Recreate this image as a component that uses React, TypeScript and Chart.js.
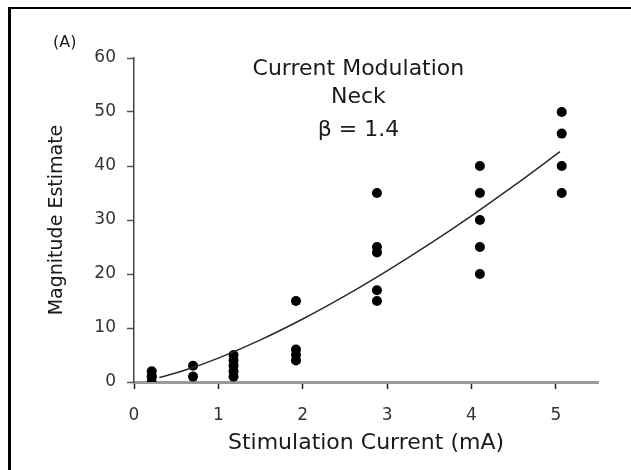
import React, { useEffect, useRef } from "react";
import { Chart, registerables } from "chart.js";

Chart.register(...registerables);

// ---- data ----
const stimulationLevels = [0.21, 0.7, 1.18, 1.92, 2.88, 4.1, 5.07];
const estimatesAtLevel = [
  [0, 1, 1, 2],
  [1, 3],
  [1, 2, 3, 4, 5],
  [4, 5, 6, 15],
  [15, 17, 24, 25, 35],
  [20, 25, 30, 35, 40],
  [35, 40, 46, 50],
];
// power-function fit (beta = 1.4) as traced on the picture
const fitX = [0.3, 0.6, 1.0, 1.5, 2.0, 2.5, 3.0, 3.5, 4.0, 4.5, 5.05];
const fitY = [0.82, 2.16, 4.42, 7.8, 11.66, 15.94, 20.58, 25.53, 30.78, 36.3, 42.65];

const xTickValues = [0, 1, 2, 3, 4, 5];
const yTickValues = [0, 10, 20, 30, 40, 50, 60];

const panelLabel = "(A)";
const titleLines = ["Current Modulation", "Neck", "β = 1.4"];
const xTitle = "Stimulation Current (mA)";
const yTitle = "Magnitude Estimate";

const FONT = "'DejaVu Sans', 'Liberation Sans', sans-serif";

const textPlugin = {
  id: "panelText",
  afterDraw(chart: any) {
    const { ctx, chartArea, scales } = chart;
    ctx.save();
    ctx.fillStyle = "#1a1a1a";
    ctx.textBaseline = "alphabetic";
    ctx.textAlign = "left";
    ctx.font = `16px ${FONT}`;
    ctx.fillText(panelLabel, 53, 47);
    ctx.textAlign = "center";
    ctx.font = `22px ${FONT}`;
    const cx = scales.x.getPixelForValue(2.66);
    const offsets = [17, 45, 78];
    titleLines.forEach((t, i) => {
      ctx.fillText(t, cx, chartArea.top + offsets[i]);
    });
    ctx.restore();
  },
};

export default function App() {
  const canvasRef = useRef<HTMLCanvasElement | null>(null);

  useEffect(() => {
    if (!canvasRef.current) return;
    const points: { x: number; y: number }[] = [];
    stimulationLevels.forEach((x, i) => {
      estimatesAtLevel[i].forEach((y) => points.push({ x, y }));
    });
    const fit = fitX.map((x, i) => ({ x, y: fitY[i] }));

    const chart = new Chart(canvasRef.current, {
      type: "scatter",
      data: {
        datasets: [
          {
            data: fit,
            showLine: true,
            pointRadius: 0,
            borderColor: "#2a2a2a",
            borderWidth: 1.5,
            tension: 0.4,
            fill: false,
          } as any,
          {
            data: points,
            pointRadius: 5,
            pointBackgroundColor: "#000",
            pointBorderWidth: 0,
            backgroundColor: "#000",
            borderColor: "#000",
          },
        ],
      },
      options: {
        animation: false,
        responsive: true,
        maintainAspectRatio: false,
        events: [],
        layout: { padding: { left: 0, right: 33, top: 58, bottom: 0 } },
        plugins: {
          legend: { display: false },
          tooltip: { enabled: false },
        },
        scales: {
          x: {
            type: "linear",
            min: 0,
            max: 5.5,
            afterBuildTicks: (scale: any) => {
              scale.ticks = xTickValues.map((v) => ({ value: v }));
            },
            afterFit: (scale: any) => {
              scale.height = 88;
            },
            ticks: {
              stepSize: 1,
              color: "#333",
              font: { family: FONT, size: 17 },
              padding: 16,
              maxRotation: 0,
            },
            grid: {
              display: true,
              drawOnChartArea: false,
              drawTicks: true,
              tickLength: 7,
              tickColor: "#222",
              tickWidth: 1.5,
            },
            border: { display: true, color: "#9a9a9a", width: 3 },
            title: {
              display: true,
              text: xTitle,
              color: "#1a1a1a",
              font: { family: FONT, size: 22 },
              padding: { top: 0, bottom: 14 },
            },
          },
          y: {
            type: "linear",
            min: 0,
            max: 60,
            afterBuildTicks: (scale: any) => {
              scale.ticks = yTickValues.map((v) => ({ value: v }));
            },
            afterFit: (scale: any) => {
              scale.width = 134;
            },
            ticks: {
              stepSize: 10,
              color: "#333",
              font: { family: FONT, size: 17 },
              padding: 11,
            },
            grid: {
              display: true,
              drawOnChartArea: false,
              drawTicks: true,
              tickLength: 7,
              tickColor: "#555",
              tickWidth: 1.5,
            },
            border: { display: true, color: "#444", width: 1.5 },
            title: {
              display: true,
              text: yTitle,
              color: "#1a1a1a",
              font: { family: FONT, size: 19 },
              padding: { top: 46, bottom: 0 },
            },
          },
        },
      },
      plugins: [textPlugin],
    });
    return () => chart.destroy();
  }, []);

  return (
    <div
      style={{
        position: "fixed",
        left: 0,
        top: 0,
        width: 631,
        height: 470,
        background: "#fff",
      }}
    >
      <canvas ref={canvasRef} />
      <div
        style={{
          position: "absolute",
          left: 8,
          top: 7,
          width: 700,
          height: 600,
          borderTop: "2px solid #000",
          borderLeft: "3px solid #000",
          pointerEvents: "none",
        }}
      />
    </div>
  );
}
